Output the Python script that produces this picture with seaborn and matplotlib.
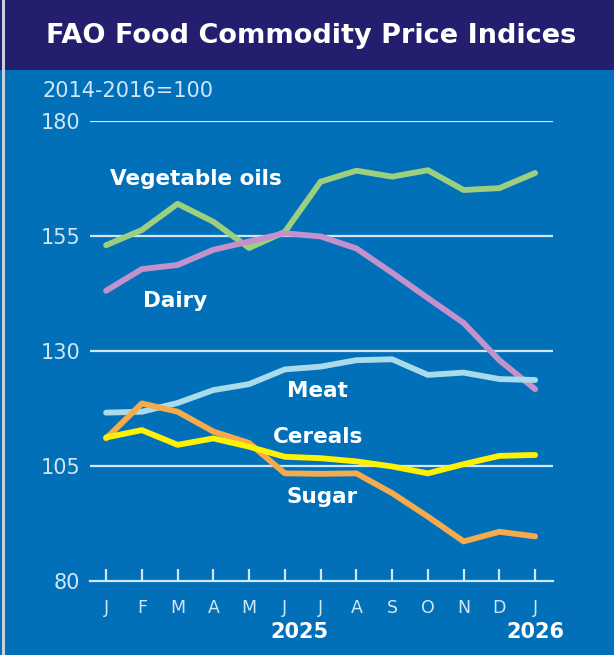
import numpy as np
import pandas as pd
import seaborn as sns
import matplotlib.pyplot as plt
from matplotlib.patches import Rectangle
import matplotlib.transforms as mtransforms

# data (Jan 2025 .. Jan 2026)
months = ["J", "F", "M", "A", "M", "J", "J", "A", "S", "O", "N", "D", "J"]
veg_oils = [153.0, 156.3, 162.0, 158.1, 152.4, 155.9, 166.8, 169.2, 167.9, 169.3, 165.0, 165.4, 168.7]
dairy = [143.1, 147.8, 148.7, 152.0, 153.8, 155.6, 154.9, 152.3, 147.0, 141.5, 136.1, 128.0, 121.7]
meat = [116.6, 116.8, 118.7, 121.5, 122.8, 126.0, 126.6, 128.0, 128.2, 124.8, 125.3, 123.9, 123.7]
cereals = [111.2, 112.8, 109.6, 111.0, 109.2, 107.0, 106.7, 106.0, 104.9, 103.4, 105.4, 107.2, 107.4]
sugar = [111.0, 118.6, 116.8, 112.5, 110.0, 103.4, 103.3, 103.4, 99.1, 94.0, 88.6, 90.7, 89.7]

series = {
    "Vegetable oils": (veg_oils, "#9ccf7e"),
    "Dairy": (dairy, "#c392cc"),
    "Meat": (meat, "#a9dbea"),
    "Sugar": (sugar, "#f5aa4c"),
    "Cereals": (cereals, "#fff200"),
}

bg = "#0170b9"
navy = "#241e6f"
pale = "#d3e6f5"

sns.set_style("white")
plt.rcParams["font.family"] = ["DejaVu Sans"]

W, H = 614, 655
fig = plt.figure(figsize=(W / 100, H / 100), dpi=100, facecolor=bg)

# header band
fig.patches.append(Rectangle((0, 1 - 70 / H), 1, 70 / H, transform=fig.transFigure,
                             facecolor=navy, edgecolor="none", zorder=0))
fig.patches.append(Rectangle((2 / W, 0), 3 / W, 1, transform=fig.transFigure,
                             facecolor="#c9d1de", edgecolor="none", zorder=1))
fig.text(311.5 / W, 1 - 36 / H, "FAO Food Commodity Price Indices", color="white",
         fontsize=19.5, fontweight="bold", ha="center", va="center")
fig.text(42 / W, 1 - 91 / H, "2014-2016=100", color=pale, fontsize=15,
         ha="left", va="center")

ax = fig.add_axes([90 / W, (H - 581) / H, 463 / W, 460 / H])
ax.set_facecolor(bg)

df = pd.DataFrame({"x": np.arange(len(months))})
for name, (vals, col) in series.items():
    df[name] = vals
long = df.melt(id_vars="x", var_name="series", value_name="value")
palette = {k: v[1] for k, v in series.items()}
sns.lineplot(data=long, x="x", y="value", hue="series", palette=palette,
             linewidth=4.2, legend=False, ax=ax, clip_on=False,
             solid_capstyle="round", solid_joinstyle="round")

ax.set_xlim(-0.45, 12.5)
ax.set_ylim(80, 180)
ax.set_yticks([80, 105, 130, 155, 180])
ax.set_xticks(np.arange(len(months)))
ax.set_xticklabels(months)
for spine in ["top", "right", "left"]:
    ax.spines[spine].set_visible(False)
ax.spines["bottom"].set_color(pale)
ax.spines["bottom"].set_linewidth(1.6)
for y in [105, 130, 155, 180]:
    ax.axhline(y, color=pale, linewidth=1.6, zorder=0)

ax.tick_params(axis="y", length=0, pad=7, labelsize=15, labelcolor=pale)
ax.tick_params(axis="x", bottom=True, direction="in", length=9, width=1.6, color=pale,
               pad=13, labelsize=12.5, labelcolor=pale)
ax.set_xlabel("")
ax.set_ylabel("")

# series labels
lab = dict(color="white", fontsize=15.5, fontweight="bold", ha="center", va="baseline")
ax.text(2.5, 166.0, "Vegetable oils", **lab)
ax.text(1.93, 139.5, "Dairy", **lab)
ax.text(5.9, 120.0, "Meat", **lab)
ax.text(5.93, 110.0, "Cereals", **lab)
ax.text(6.04, 97.0, "Sugar", **lab)

# year labels under the month axis
trans = mtransforms.blended_transform_factory(ax.transData, fig.transFigure)
ax.text(5.4, 1 - 632 / H, "2025", transform=trans, color="white", fontsize=15,
        fontweight="bold", ha="center", va="center")
ax.text(12, 1 - 632 / H, "2026", transform=trans, color="white", fontsize=15,
        fontweight="bold", ha="center", va="center")

fig.savefig("out.png", dpi=100, facecolor=bg)
